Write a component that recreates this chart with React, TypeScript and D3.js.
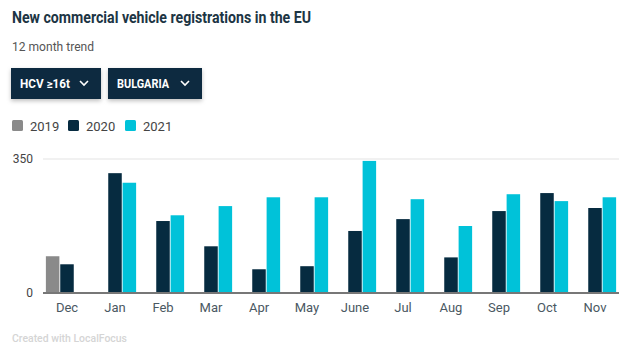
import * as d3 from 'd3';

const months = ['Dec', 'Jan', 'Feb', 'Mar', 'Apr', 'May', 'June', 'Jul', 'Aug', 'Sep', 'Oct', 'Nov'];
const series = ['2019', '2020', '2021'];
const v2019: (number | null)[] = [96, null, null, null, null, null, null, null, null, null, null, null];
const v2020: (number | null)[] = [75, 313, 188, 122, 62, 70, 162, 193, 93, 214, 261, 222];
const v2021: (number | null)[] = [null, 288, 203, 227, 250, 250, 345, 245, 175, 258, 240, 250];
const yTicks = [0, 350];

const colors = ['#8a8a8a', '#062b40', '#00c2d9'];
const font = 'Roboto, "Open Sans", sans-serif';

export default function App() {
  const W = 639;
  const H = 353;
  const left = 43;
  const right = 619;
  const top = 159;
  const bottom = 293;

  const x = d3.scaleBand<string>().domain(months).range([left, right]).paddingInner(0.12).paddingOuter(0.06);
  const xs = d3.scaleBand<string>().domain(series).range([0, x.bandwidth()]).paddingInner(0.06);
  const y = d3.scaleLinear().domain([0, 350]).range([bottom, top]);
  const data = [v2019, v2020, v2021];

  const buttons = [
    { label: 'HCV ≥16t', x: 11, w: 90, tw: 50 },
    { label: 'BULGARIA', x: 108, w: 94, tw: 52 },
  ];

  return (
    <svg width={W} height={H} style={{ position: 'absolute', left: 0, top: 0, fontFamily: font }}>
      <defs>
        <filter id="sh" x="-20%" y="-20%" width="140%" height="160%">
          <feDropShadow dx="0" dy="2" stdDeviation="2" floodColor="#000" floodOpacity="0.25" />
        </filter>
      </defs>
      <text x={12} y={23} fontSize={17} fontWeight={700} fill="#1c3544" textLength={299} lengthAdjust="spacingAndGlyphs">
        New commercial vehicle registrations in the EU
      </text>
      <text x={12} y={51} fontSize={13} fill="#555" textLength={82} lengthAdjust="spacingAndGlyphs">12 month trend</text>

      {buttons.map((b) => (
        <g key={b.label}>
          <rect x={b.x} y={68} width={b.w} height={31} fill="#0a2a3f" filter="url(#sh)" />
          <text x={b.x + 9} y={88} fontSize={12} fontWeight={700} fill="#fff" textLength={b.tw} lengthAdjust="spacingAndGlyphs">{b.label}</text>
          <path d={`M${b.x + b.w - 21},81 l4,4 l4,-4`} fill="none" stroke="#fff" strokeWidth={1.6} />
        </g>
      ))}

      {series.map((s, i) => {
        const lx = [12, 68, 125][i];
        return (
          <g key={s}>
            <rect x={lx} y={120} width={11} height={11} rx={1.5} fill={colors[i]} />
            <text x={lx + 18} y={130.5} fontSize={13} fill="#444">{s}</text>
          </g>
        );
      })}

      {yTicks.map((t) => (
        <g key={t}>
          {t > 0 && <line x1={left} x2={right} y1={y(t)} y2={y(t)} stroke="#ececec" strokeWidth={1.5} />}
          <text x={33} y={y(t) + 4} fontSize={12} fill="#444" textAnchor="end">{t}</text>
        </g>
      ))}

      {months.map((m, mi) => (
        <g key={m}>
          {series.map((s, si) => {
            const v = data[si][mi];
            if (v == null) return null;
            return (
              <rect key={s} x={(x(m) ?? 0) + (xs(s) ?? 0)} y={y(v)} width={xs.bandwidth()} height={y(0) - y(v)} fill={colors[si]} />
            );
          })}
          <text x={(x(m) ?? 0) + x.bandwidth() / 2} y={312} fontSize={13} fill="#4a5862" textAnchor="middle">{m}</text>
        </g>
      ))}

      <line x1={left} x2={right} y1={bottom} y2={bottom} stroke="#777" strokeWidth={2} />

      <text x={12} y={342} fontSize={11} fill="#d5d5d5" fontWeight={500} textLength={115} lengthAdjust="spacingAndGlyphs">Created with LocalFocus</text>
    </svg>
  );
}
